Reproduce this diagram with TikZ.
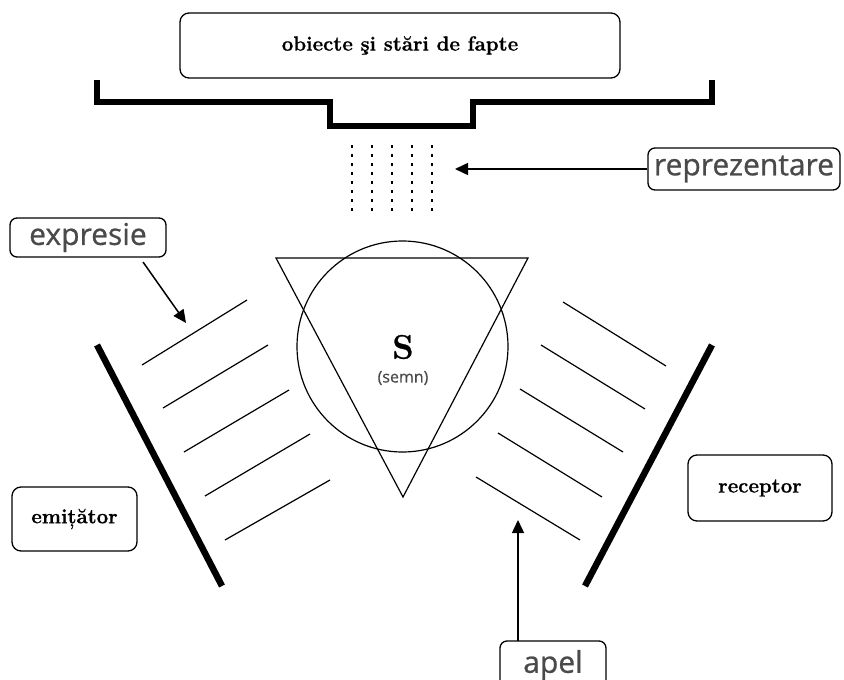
\documentclass[tikz,border=0pt]{standalone}
\usepackage{fontspec}
\newfontfamily\labelsans{Open Sans}[FakeBold=0.7]
\newfontfamily\serifheavy{Latin Modern Roman}[FakeBold=0.8]
\usetikzlibrary{arrows.meta}
\definecolor{labelgray}{HTML}{4A4A4A}
\tikzset{
  rbox/.style={draw, line width=1.3pt, rounded corners=9pt, inner sep=0pt,
    font=\serifheavy\bfseries\fontsize{20.5}{24}\selectfont},
  gbox/.style={draw, line width=1.3pt, rounded corners=7pt, inner sep=0pt,
    text=labelgray, font=\labelsans\fontsize{30}{33}\selectfont},
  thinline/.style={line width=1.2pt},
  thickbar/.style={line width=6.5pt},
  pointer/.style={line width=1.5pt, -{Triangle[length=13pt,width=12pt]}},
}
\begin{document}
\begin{tikzpicture}[x=1pt,y=-1pt]
\useasboundingbox (0,0) rectangle (844,680);
\fill[white] (0,0) rectangle (844,680);
\clip (0,0) rectangle (844,680);

% top box and bracket
\node[rbox, minimum width=440pt, minimum height=65pt] (objects) at (400,45.5) {obiecte şi stări de fapte};
\draw[thickbar] (97,80) -- (97,102) -- (330,102) -- (330,126) -- (473,126) -- (473,102) -- (712,102) -- (712,80);

% dotted columns
\foreach \x in {352,372,392,412,432}
  \draw[line width=2pt, dash pattern=on 3pt off 6pt] (\x,145) -- (\x,213);

% reprezentare
\node[gbox, minimum width=192pt, minimum height=42pt] (repr) at (744,169) {reprezentare};
\coordinate (reptip) at (455,169);
\draw[pointer] (repr.west) -- (reptip);

% expresie
\node[gbox, minimum width=156pt, minimum height=39pt] (expr) at (88,237.5) {expresie};
\coordinate (exptail) at (143,262);
\coordinate (exptip) at (186,323);
\draw[pointer] (exptail) -- (exptip);

% sign: triangle and circle
\draw[thinline] (276,258) -- (528,258) -- (403,497) -- cycle;
\draw[thinline] (402.5,346.5) circle (105.5);
\node[font=\serifheavy\bfseries\fontsize{34}{36}\selectfont] (sign) at (403,347) {S};
\node[font=\labelsans\fontsize{16}{18}\selectfont, text=labelgray] (semn) at (403,378) {(semn)};

% left hatch lines and bar
\draw[thinline] (142,365) -- (247,300);
\draw[thinline] (163,408) -- (268,345);
\draw[thinline] (184,452) -- (289,390);
\draw[thinline] (205,496) -- (310,434);
\draw[thinline] (225,540) -- (330,480);
\draw[thickbar] (97,345) -- (222,586);

% right hatch lines and bar
\draw[thinline] (563,302) -- (666,366);
\draw[thinline] (541,345) -- (645,409);
\draw[thinline] (520,389) -- (623,452);
\draw[thinline] (498,433) -- (602,497);
\draw[thinline] (476,477) -- (580,540);
\draw[thickbar] (712,345) -- (585,586);

% emitator and receptor
\node[rbox, minimum width=125pt, minimum height=64pt] (emit) at (74.5,519) {emițător};
\node[rbox, minimum width=144pt, minimum height=66pt] (recv) at (760,488) {receptor};

% apel
\node[gbox, minimum width=106pt, minimum height=48pt] (apel) at (553,665) {apel};
\coordinate (apeltail) at (518,641);
\coordinate (apeltip) at (518,520);
\draw[pointer] (apeltail) -- (apeltip);
\end{tikzpicture}
\end{document}
